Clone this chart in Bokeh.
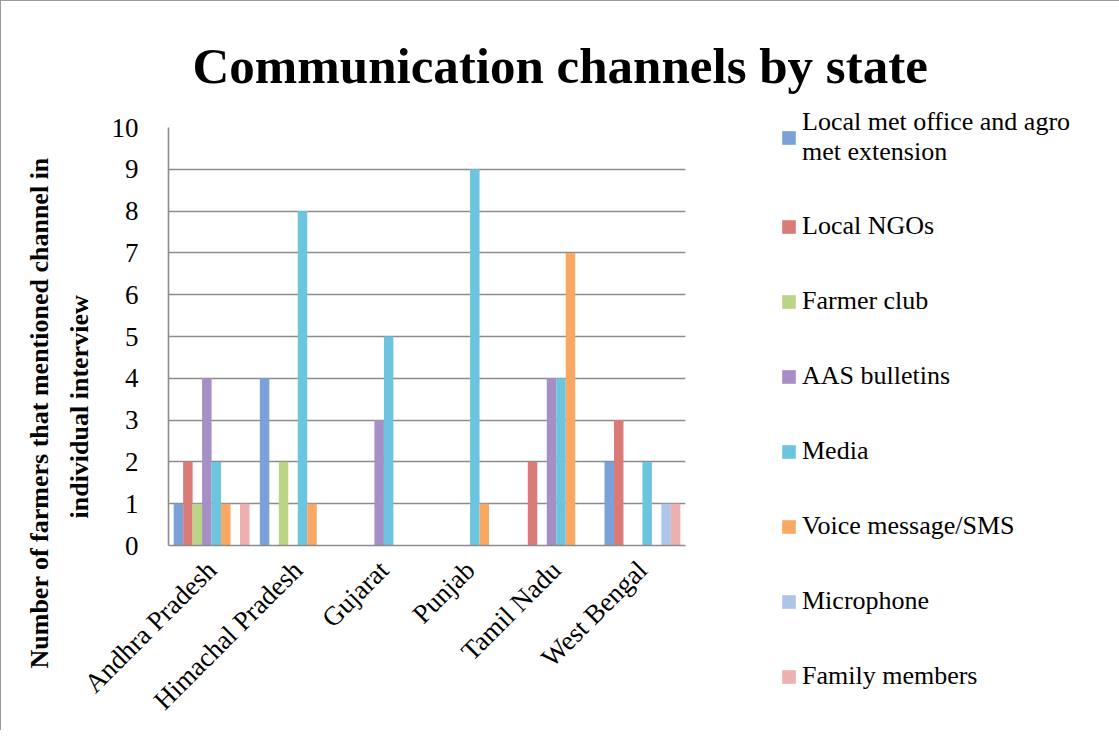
import math
from bokeh.plotting import figure
from bokeh.models import ColumnDataSource, Legend, LegendItem, Title, FactorRange, FixedTicker
from bokeh.transform import dodge
from bokeh.embed import file_html
from bokeh.resources import INLINE

# ---- data ----
states = ["Andhra Pradesh", "Himachal Pradesh", "Gujarat", "Punjab", "Tamil Nadu", "West Bengal"]
channels = ["Local met office and agro\nmet extension", "Local NGOs", "Farmer club", "AAS bulletins",
            "Media", "Voice message/SMS", "Microphone", "Family members"]
local_met = [1, 4, 0, 0, 0, 2]
local_ngos = [2, 0, 0, 0, 2, 3]
farmer_club = [1, 2, 0, 0, 0, 0]
aas_bulletins = [4, 0, 3, 0, 4, 0]
media = [2, 8, 5, 9, 4, 2]
voice_sms = [1, 1, 0, 1, 7, 0]
microphone = [0, 0, 0, 0, 0, 1]
family_members = [1, 0, 0, 0, 0, 1]
y_ticks = [0, 1, 2, 3, 4, 5, 6, 7, 8, 9, 10]

series = [local_met, local_ngos, farmer_club, aas_bulletins, media, voice_sms, microphone, family_members]
colors = ["#7aa1d8", "#da7b78", "#b9d585", "#a58fc4", "#6cc5de", "#f9a863", "#adc5e9", "#eeafae"]

cols = ["s%d" % i for i in range(len(series))]
data = {"state": states}
for c, s in zip(cols, series):
    data[c] = s
source = ColumnDataSource(data)

p = figure(x_range=FactorRange(*states, range_padding=0), y_range=(0, 10),
           frame_width=517, frame_height=418, output_backend="svg", toolbar_location=None,
           min_border_left=167, min_border_top=125, min_border_right=0, min_border_bottom=185)

bar_w = 0.11
renderers = []
for i, (c, col) in enumerate(zip(cols, colors)):
    off = (i - 3.5) * bar_w
    r = p.vbar(x=dodge("state", off, range=p.x_range), top=c, width=bar_w, source=source,
               fill_color=col, line_color=None)
    renderers.append(r)

# title
p.title.text = "Communication channels by state"
p.title.text_font = "Liberation Serif"
p.title.text_font_size = "51px"
p.title.text_font_style = "bold"
p.title.align = "left"
p.title.offset = 24
p.title.standoff = 68
p.title.text_color = "#000000"

# axes
grid_col = "#8c8c8c"
p.outline_line_color = None
p.xgrid.grid_line_color = None
p.ygrid.grid_line_color = grid_col
p.ygrid.grid_line_width = 1.6
p.yaxis.ticker = FixedTicker(ticks=y_ticks)
p.yaxis.axis_line_color = grid_col
p.yaxis.axis_line_width = 1.6
p.yaxis.major_tick_line_color = None
p.yaxis.minor_tick_line_color = None
p.yaxis.major_label_standoff = 24
p.yaxis.major_label_text_font = "Liberation Serif"
p.yaxis.major_label_text_font_size = "27px"
p.yaxis.major_label_text_color = "#000000"

p.xaxis.axis_line_color = grid_col
p.xaxis.axis_line_width = 1.6
p.xaxis.major_tick_line_color = None
p.xaxis.minor_tick_line_color = None
p.xaxis.major_label_orientation = math.pi / 4
p.xaxis.major_label_standoff = 14
p.xaxis.major_label_text_font = "Liberation Serif"
p.xaxis.major_label_text_font_size = "27px"
p.xaxis.major_label_text_color = "#000000"

# y axis title (two lines) as side titles
ylab2 = Title(text="individual interview", align="left", offset=27, standoff=29,
              text_font="Liberation Serif", text_font_size="26px", text_font_style="bold",
              text_color="#000000")
ylab1 = Title(text="Number of farmers that mentioned channel  in", align="left", offset=-123,
              standoff=-10, text_font="Liberation Serif", text_font_size="26px",
              text_font_style="bold", text_color="#000000")
p.add_layout(ylab2, "left")
p.add_layout(ylab1, "left")

# legend
items = [LegendItem(label=ch, renderers=[r]) for ch, r in zip(channels, renderers)]
legend = Legend(items=items, location=(95, -147), orientation="vertical",
                label_text_font="Liberation Serif", label_text_font_size="26px",
                label_text_color="#000000", label_text_line_height=1.2,
                glyph_width=17, glyph_height=17, label_standoff=5,
                label_height=32, spacing=43, padding=0, margin=0,
                border_line_color=None, background_fill_alpha=0)
p.add_layout(legend, "right")

p.styles = {"border-left": "1px solid #9a9a9a", "border-top": "1px solid #9a9a9a"}

open("out.html", "w").write(file_html(p, INLINE))
